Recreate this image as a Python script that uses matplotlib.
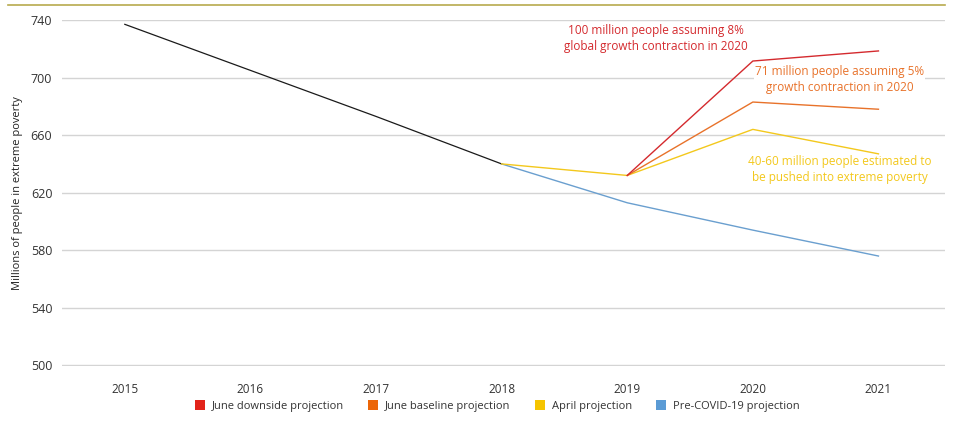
import matplotlib.pyplot as plt
from matplotlib.lines import Line2D
from matplotlib.patches import Patch

plt.rcParams['font.family'] = ['Open Sans', 'DejaVu Sans']

years = [2015, 2016, 2017, 2018, 2019, 2020, 2021]
historical = [737, 705, 673, 640]
pre_covid = [640, 613, 594, 576]
april = [640, 632, 664, 647]
june_baseline = [632, 683, 678]
june_downside = [632, 711.5, 718.5]

c_down = '#d42a2e'
c_base = '#e8722a'
c_april = '#f3c81c'
c_pre = '#6a9fcf'

fig = plt.figure(figsize=(9.6, 4.23), dpi=100)
ax = fig.add_axes([0.0646, 0.1348, 0.9198, 0.8179])

ax.plot(years[:4], historical, color='#1a1a1a', lw=0.9)
ax.plot(years[3:], pre_covid, color=c_pre, lw=1.0)
ax.plot(years[3:], april, color=c_april, lw=1.0)
ax.plot(years[4:], june_baseline, color=c_base, lw=1.0)
ax.plot(years[4:], june_downside, color=c_down, lw=1.0)

ax.set_xlim(2014.5, 2021.53)
ax.set_ylim(499.6, 740)
ax.set_yticks(range(500, 741, 40))
ax.set_xticks(years)
ax.grid(axis='y', color='#d4d4d4', lw=1)
ax.set_axisbelow(True)
for s in ax.spines.values():
    s.set_visible(False)
ax.tick_params(length=0, labelsize=8.5, colors='#333333')
ax.tick_params(axis='x', pad=12)
ax.tick_params(axis='y', pad=7, labelsize=9)
ax.set_ylabel('Millions of people in extreme poverty', fontsize=8, color='#222222')
ax.yaxis.set_label_coords(-0.044, 0.5)

ax.text(2019.23, 727, '100 million people assuming 8%\nglobal growth contraction in 2020',
        color=c_down, fontsize=8.5, ha='center', va='center', linespacing=1.3)
ax.text(2020.69, 699, '71 million people assuming 5%\ngrowth contraction in 2020',
        color=c_base, fontsize=8.5, ha='center', va='center', linespacing=1.3,
        bbox=dict(facecolor='white', edgecolor='none', pad=1))
ax.text(2020.69, 636, '40-60 million people estimated to\nbe pushed into extreme poverty',
        color=c_april, fontsize=8.5, ha='center', va='center', linespacing=1.3)

fig.add_artist(Line2D([0.008, 0.984], [0.988, 0.988], color='#b8aa4e', lw=1.2))

handles = [Patch(facecolor=c, edgecolor='none') for c in ['#e2231a', '#ec6608', '#f5c400', '#5b9bd5']]
labels = ['June downside projection', 'June baseline projection', 'April projection', 'Pre-COVID-19 projection']
fig.legend(handles, labels, loc='center', bbox_to_anchor=(0.518, 0.04), ncol=4, frameon=False,
           fontsize=8, handlelength=0.9, handleheight=0.9, handletextpad=0.6, columnspacing=2.2,
           labelcolor='#333333')

fig.savefig('out.png', dpi=100)
